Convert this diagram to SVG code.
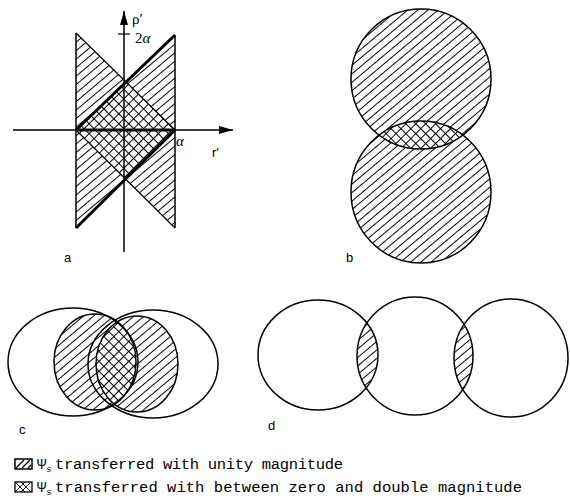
<svg xmlns="http://www.w3.org/2000/svg" width="570" height="503" viewBox="0 0 570 503">
<defs>
<style>
.o{fill:none;stroke:#000;stroke-width:1.5}
.thin{fill:none;stroke:#000;stroke-width:1.2}
.thick{fill:none;stroke:#000;stroke-width:3}
.lbl{font-family:"Liberation Sans",Arial,sans-serif;font-size:13px;fill:#000}
.math{font-family:"Liberation Serif","Times New Roman",serif;font-size:15px;fill:#000}
.leg{font-family:"Liberation Mono","Courier New",monospace;font-size:15.5px;fill:#000}
</style>
<pattern id="h" width="6.5" height="6.5" patternUnits="userSpaceOnUse" patternTransform="rotate(-40)"><line x1="0" y1="3.25" x2="6.5" y2="3.25" stroke="#000" stroke-width="1"/></pattern>
<pattern id="x" width="7" height="7" patternUnits="userSpaceOnUse" patternTransform="rotate(45)"><path d="M0 3.5H7M3.5 0V7" stroke="#000" stroke-width="1"/></pattern>
<marker id="arr" viewBox="0 0 14 8" refX="14" refY="4" markerWidth="14" markerHeight="8" markerUnits="userSpaceOnUse" orient="auto"><path d="M0 0L14 4L0 8z" fill="#000"/></marker>
<clipPath id="cbTop"><ellipse cx="421" cy="79" rx="70" ry="70"/></clipPath>
<clipPath id="ccL"><ellipse cx="95" cy="362" rx="41" ry="48"/></clipPath>
<clipPath id="cdL"><ellipse cx="318" cy="355" rx="60" ry="55"/></clipPath>
<clipPath id="cdR"><ellipse cx="511" cy="358" rx="57" ry="59"/></clipPath>
</defs>
<rect width="570" height="503" fill="#fff"/>

<g id="panel-a">
<polygon points="76,33 175,130 175,228 76,130" fill="url(#h)"/>
<polygon points="76,130 175,35 175,130 76,228" fill="url(#h)"/>
<polygon points="76,130 125,82 175,130 125,178" fill="#fff"/>
<polygon points="76,130 125,82 175,130 125,178" fill="url(#x)"/>
<line class="o" x1="76" y1="33" x2="76" y2="228"/>
<line class="o" x1="175" y1="35" x2="175" y2="228"/>
<polyline class="thin" points="76,33 175,130"/>
<polyline class="thin" points="76,130 175,228"/>
<polyline class="thick" points="175,35 76,130"/>
<polyline class="thick" points="76,228 175,130"/>
<line class="thick" x1="76" y1="130" x2="175" y2="130"/>
<line class="thin" x1="118" y1="34" x2="130" y2="34"/>
<text class="math" x="132" y="24">ρ′</text>
<text class="math" x="135" y="43">2<tspan font-style="italic">α</tspan></text>
<text class="math" x="176" y="146" font-style="italic">α</text>
<text class="lbl" x="212" y="157" font-size="14">r′</text>
<text class="lbl" x="64" y="262">a</text>
</g>

<g id="connectors">
<line x1="13" y1="130" x2="233" y2="130" stroke="#000" stroke-width="1.5" marker-end="url(#arr)"/>
<line x1="124" y1="252" x2="124" y2="11" stroke="#000" stroke-width="1.5" marker-end="url(#arr)"/>
</g>

<g id="panel-b">
<ellipse cx="421" cy="79" rx="70" ry="70" fill="url(#h)"/>
<ellipse cx="421" cy="192" rx="70" ry="71" fill="url(#h)"/>
<ellipse cx="421" cy="192" rx="70" ry="71" fill="#fff" clip-path="url(#cbTop)"/>
<ellipse cx="421" cy="192" rx="70" ry="71" fill="url(#x)" clip-path="url(#cbTop)"/>
<ellipse class="o" cx="421" cy="79" rx="70" ry="70"/>
<ellipse class="o" cx="421" cy="192" rx="70" ry="71"/>
<text class="lbl" x="346" y="262">b</text>
</g>

<g id="panel-c">
<ellipse cx="95" cy="362" rx="41" ry="48" fill="url(#h)"/>
<ellipse cx="137" cy="364" rx="41" ry="48" fill="url(#h)"/>
<ellipse cx="137" cy="364" rx="41" ry="48" fill="#fff" clip-path="url(#ccL)"/>
<ellipse cx="137" cy="364" rx="41" ry="48" fill="url(#x)" clip-path="url(#ccL)"/>
<ellipse class="o" cx="95" cy="362" rx="41" ry="48"/>
<ellipse class="o" cx="137" cy="364" rx="41" ry="48"/>
<ellipse class="o" cx="73" cy="362" rx="65" ry="54"/>
<ellipse class="o" cx="153" cy="364" rx="65" ry="54"/>
<text class="lbl" x="19" y="434">c</text>
</g>

<g id="panel-d">
<ellipse cx="415" cy="356" rx="58" ry="59" fill="url(#h)" clip-path="url(#cdL)"/>
<ellipse cx="415" cy="356" rx="58" ry="59" fill="url(#h)" clip-path="url(#cdR)"/>
<ellipse class="o" cx="318" cy="355" rx="60" ry="55"/>
<ellipse class="o" cx="415" cy="356" rx="58" ry="59"/>
<ellipse class="o" cx="511" cy="358" rx="57" ry="59"/>
<text class="lbl" x="268" y="430">d</text>
</g>

<g id="legend">
<g id="legend-hatch">
<rect x="15" y="459" width="17" height="10" fill="none" stroke="#000" stroke-width="1.5"/>
<path d="M16 468L24 460M22 468L30 460M28 468L31 465" stroke="#000" stroke-width="1.2"/>
<text class="leg" x="37" y="469">Ψ<tspan font-size="9" dy="3">s</tspan></text>
<text class="leg" x="55" y="469" textLength="288" lengthAdjust="spacing">transferred with unity magnitude</text>
</g>
<g id="legend-cross">
<rect x="15" y="482" width="17" height="10" fill="#fff" stroke="#000" stroke-width="1.3"/>
<path d="M15 482L25 492M21 482L31 492M15 492L25 482M21 492L31 482" stroke="#000" stroke-width="0.9"/>
<text class="leg" x="37" y="492">Ψ<tspan font-size="9" dy="3">s</tspan></text>
<text class="leg" x="55" y="492" textLength="467" lengthAdjust="spacing">transferred with between zero and double magnitude</text>
</g>
</g>
</svg>
